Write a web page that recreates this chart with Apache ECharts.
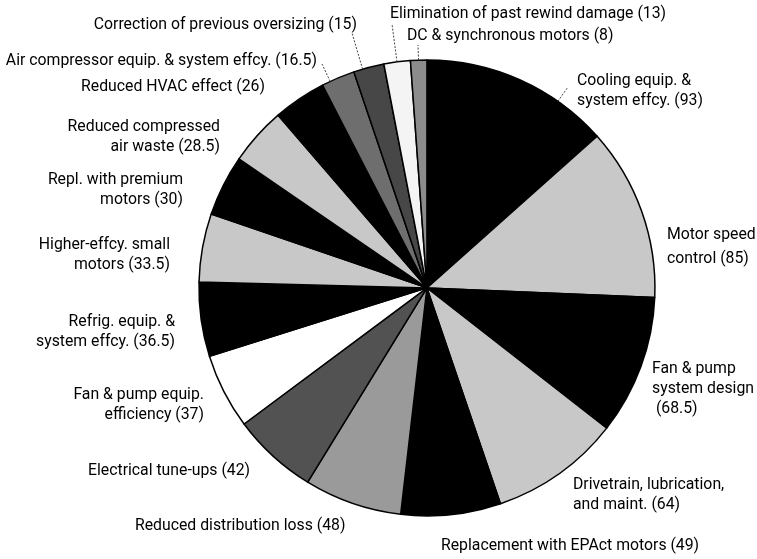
<!DOCTYPE html>
<html><head><meta charset="utf-8">
<script src="https://cdn.jsdelivr.net/npm/echarts@6/dist/echarts.min.js"></script>
<style>html,body{margin:0;padding:0;background:#fff}#c{width:757px;height:559px}</style>
</head><body><div id="c"></div>
<script>
// ---- data ----
const categories = [
  'Cooling equip. &\nsystem effcy.',
  'Motor speed\ncontrol',
  'Fan & pump\nsystem design\n',
  'Drivetrain, lubrication,\nand maint.',
  'Replacement with EPAct motors',
  'Reduced distribution loss',
  'Electrical tune-ups',
  'Fan & pump equip.\nefficiency',
  'Refrig. equip. &\nsystem effcy.',
  'Higher-effcy. small\nmotors',
  'Repl. with premium\nmotors',
  'Reduced compressed\nair waste',
  'Reduced HVAC effect',
  'Air compressor equip. & system effcy.',
  'Correction of previous oversizing',
  'Elimination of past rewind damage',
  'DC & synchronous motors'
];
const values = [93, 85, 68.5, 64, 49, 48, 42, 37, 36.5, 33.5, 30, 28.5, 26, 16.5, 15, 13, 8];

// ---- styles / layout ----
const sliceColors = ['#000000','#c8c8c8','#000000','#c8c8c8','#000000','#9a9a9a','#525252','#ffffff',
  '#000000','#c8c8c8','#000000','#c8c8c8','#000000','#6e6e6e','#474747','#f4f4f4','#8c8c8c'];
// label anchor [x, y, align]
const labelPlace = [
  [577, 91, 'left'], [667, 247, 'left'], [652, 389, 'left'], [573, 495, 'left'],
  [441, 546, 'left'], [135, 526, 'left'], [88, 471, 'left'], [204, 405, 'right'],
  [175, 332, 'right'], [170, 255, 'right'], [183, 190, 'right'], [220, 137, 'right'],
  [265, 87, 'right'], [317, 61, 'right'], [357, 25, 'right'], [390, 14, 'left'], [407, 36, 'left']
];
const labelLineHeight = {1: 24};
// leader line end points (near label) keyed by slice index
const leaderEnds = {0: [568, 87], 13: [322, 64], 14: [352, 33], 15: [392, 24], 16: [418, 45]};

const FONT = "Roboto,'Liberation Sans',sans-serif";

const chart = echarts.init(document.getElementById('c'), null, {renderer: 'canvas'});
const seriesData = categories.map((n, i) => ({
  name: n,
  value: values[i],
  itemStyle: {color: sliceColors[i]},
  label: labelLineHeight[i] ? {lineHeight: labelLineHeight[i]} : undefined
}));

chart.setOption({
  animation: false,
  backgroundColor: '#ffffff',
  series: [{
    type: 'pie',
    center: ['56.4%', '51.5%'],
    radius: 228,
    startAngle: 90,
    clockwise: true,
    avoidLabelOverlap: false,
    silent: true,
    itemStyle: {borderColor: '#000', borderWidth: 1.5},
    label: {
      show: true,
      position: 'outside',
      fontFamily: FONT,
      fontSize: 15.8,
      lineHeight: 20,
      color: '#000',
      formatter: p => p.name + ' (' + p.value + ')'
    },
    labelLine: {show: false},
    labelLayout: p => {
      const lp = labelPlace[p.dataIndex];
      return {x: lp[0], y: lp[1], align: lp[2], verticalAlign: 'middle'};
    },
    emphasis: {disabled: true},
    data: seriesData
  }]
});

// leader lines computed from the library's pie layout
function leaderGraphics() {
  const out = [];
  let data = null;
  try { data = chart.getModel().getSeriesByIndex(0).getData(); } catch (e) {}
  Object.keys(leaderEnds).forEach(k => {
    const i = +k;
    const e = leaderEnds[k];
    let lay = data ? data.getItemLayout(i) : null;
    if (!lay) return;
    let s = Math.min(lay.startAngle, lay.endAngle), en = Math.max(lay.startAngle, lay.endAngle);
    let a = Math.atan2(e[1] - lay.cy, e[0] - lay.cx);
    while (a < s) a += Math.PI * 2;
    while (a > s + Math.PI * 2) a -= Math.PI * 2;
    if (a > en) a = (a - en < s + Math.PI * 2 - a) ? en : s;
    const px = lay.cx + lay.r * Math.cos(a), py = lay.cy + lay.r * Math.sin(a);
    out.push({
      type: 'polyline', z: 10, silent: true,
      shape: {points: [[px, py], e]},
      style: {stroke: '#444', lineWidth: 1, lineDash: [2, 1.5], fill: null}
    });
  });
  return out;
}
chart.setOption({graphic: leaderGraphics()});
</script>
</body></html>
